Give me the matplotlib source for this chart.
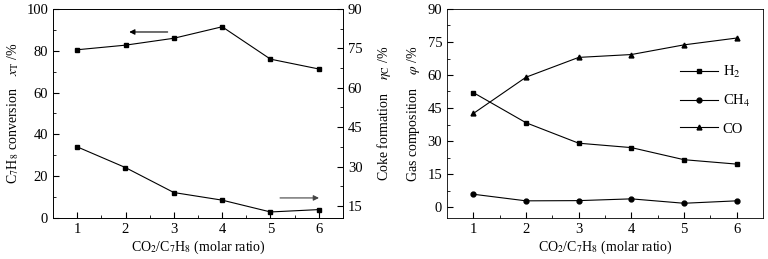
import numpy as np
import matplotlib
matplotlib.use('Agg')
import matplotlib.pyplot as plt

plt.rcParams['font.family'] = ['Liberation Serif', 'DejaVu Serif']
plt.rcParams['mathtext.fontset'] = 'stix'
plt.rcParams['font.size'] = 10

ratio = [1, 2, 3, 4, 5, 6]
conversion = [80.5, 82.7, 86.0, 91.5, 76.0, 71.3]
coke = [37.5, 29.6, 20.1, 17.2, 12.7, 13.6]
h2 = [52.0, 38.3, 29.0, 27.0, 21.5, 19.5]
ch4 = [5.8, 2.8, 2.9, 3.7, 1.7, 2.8]
co = [42.5, 59.0, 68.0, 69.3, 73.7, 76.8]

fig = plt.figure(figsize=(7.68, 2.59), dpi=100)
ax1 = fig.add_axes([53/768, 41/259, 290/768, 209/259])
ax2 = ax1.twinx()
ax3 = fig.add_axes([447/768, 41/259, 316/768, 209/259])

lw = 0.8
ms = 3.5
ax1.plot(ratio, conversion, 'k-s', lw=lw, ms=ms)
ax2.plot(ratio, coke, 'k-s', lw=lw, ms=ms)
ax1.set_xlim(0.5, 6.5)
ax1.set_ylim(0, 100)
ax2.set_ylim(10.4, 90)
ax1.set_yticks([0, 20, 40, 60, 80, 100])
ax1.set_yticks(np.arange(10, 100, 20), minor=True)
ax2.set_yticks([15, 30, 45, 60, 75, 90])
ax2.set_yticks(np.arange(22.5, 90, 15), minor=True)
ax1.set_xticks(ratio)
ax1.set_xticks(np.arange(1.5, 6.5, 1), minor=True)
ax1.set_ylabel(r'C$_7$H$_8$ conversion    $x_{\mathrm{T}}$ /%', labelpad=4)
ax2.set_ylabel(r'Coke formation    $\eta_{\mathrm{C}}$ /%', labelpad=9)
ax1.set_xlabel(r'CO$_2$/C$_7$H$_8$ (molar ratio)', labelpad=2)
ax1.annotate('', xy=(2.02, 89), xytext=(2.93, 89),
             arrowprops=dict(arrowstyle='-|>', color='k', lw=0.8, mutation_scale=8))
ax1.annotate('', xy=(6.06, 9.6), xytext=(5.14, 9.6),
             arrowprops=dict(arrowstyle='-|>', color='#444444', lw=0.8, mutation_scale=8))

ax3.plot(ratio, h2, 'k-s', lw=lw, ms=ms, label='H$_2$')
ax3.plot(ratio, ch4, 'k-o', lw=lw, ms=ms, label='CH$_4$')
ax3.plot(ratio, co, 'k-^', lw=lw, ms=ms, label='CO')
ax3.set_xlim(0.5, 6.5)
ax3.set_ylim(-5, 90)
ax3.set_yticks([0, 15, 30, 45, 60, 75, 90])
ax3.set_yticks(np.arange(7.5, 90, 15), minor=True)
ax3.set_xticks(ratio)
ax3.set_xticks(np.arange(1.5, 6.5, 1), minor=True)
ax3.set_ylabel(r'Gas composition    $\varphi$ /%', labelpad=4)
ax3.set_xlabel(r'CO$_2$/C$_7$H$_8$ (molar ratio)', labelpad=2)
ax3.legend(loc='upper right', bbox_to_anchor=(1.0, 0.80), frameon=False,
           handlelength=2.6, handletextpad=0.3, labelspacing=0.9, fontsize=10.5)

for a in (ax1, ax2, ax3):
    a.tick_params(direction='in', which='both', labelsize=10.5)
    a.tick_params(which='major', length=4)
    a.tick_params(which='minor', length=2)
    for s in a.spines.values():
        s.set_linewidth(0.6)

fig.savefig('out.png', dpi=100)
